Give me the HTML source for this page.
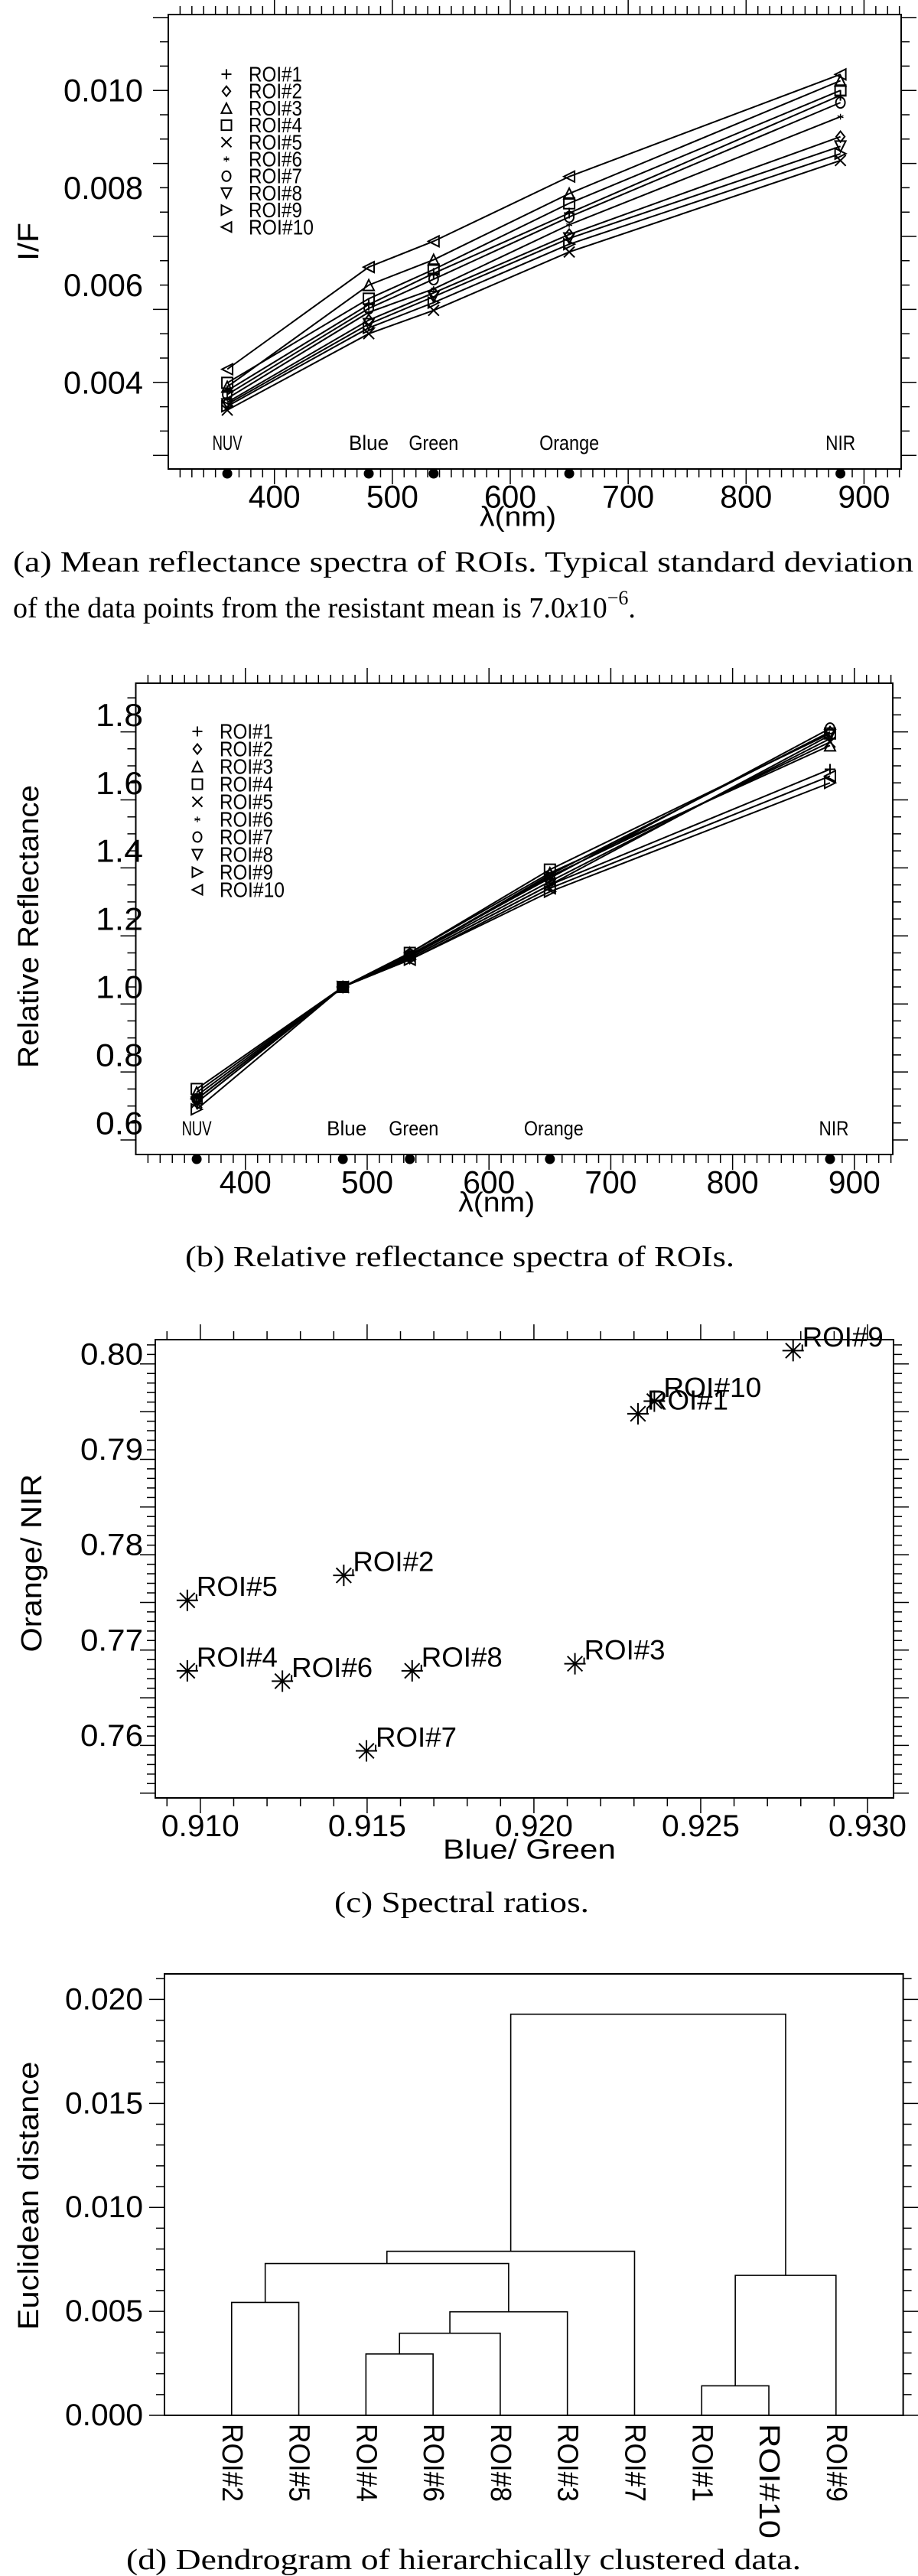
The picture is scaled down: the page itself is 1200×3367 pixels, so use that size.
<!DOCTYPE html>
<html><head><meta charset="utf-8"><title>ROI spectra figure</title>
<style>html,body{margin:0;padding:0;background:#fff}svg{display:block}</style></head>
<body>
<svg id="fig" xmlns="http://www.w3.org/2000/svg" width="1200" height="3367" viewBox="0 0 1200 3367" font-family="Liberation Sans, sans-serif"></svg>
<script>
// ---------- DATA ----------
const bandWl = [360, 480, 535, 650, 880];
const bandNames = ["NUV", "Blue", "Green", "Orange", "NIR"];
const roiNames = ["ROI#1","ROI#2","ROI#3","ROI#4","ROI#5","ROI#6","ROI#7","ROI#8","ROI#9","ROI#10"];
const xTicksNm = [400, 500, 600, 700, 800, 900];
// (a) mean I/F per ROI at NUV, Blue, Green, Orange, NIR
const ifRoi1  = [0.00383, 0.00560, 0.00624, 0.00748, 0.00990];
const ifRoi2  = [0.00359, 0.00528, 0.00584, 0.00704, 0.00905];
const ifRoi3  = [0.00391, 0.00600, 0.00652, 0.00788, 0.01020];
const ifRoi4  = [0.00399, 0.00572, 0.00632, 0.00768, 0.01000];
const ifRoi5  = [0.00343, 0.00500, 0.00548, 0.00668, 0.00856];
const ifRoi6  = [0.00367, 0.00544, 0.00592, 0.00724, 0.00946];
const ifRoi7  = [0.00375, 0.00552, 0.00612, 0.00740, 0.00975];
const ifRoi8  = [0.00355, 0.00520, 0.00576, 0.00696, 0.00885];
const ifRoi9  = [0.00351, 0.00512, 0.00564, 0.00684, 0.00870];
const ifRoi10 = [0.00427, 0.00637, 0.00690, 0.00823, 0.01033];
const yTicksA = [0.004, 0.006, 0.008, 0.010];
const yTickLabelsA = ["0.004", "0.006", "0.008", "0.010"];
// (b) relative reflectance per ROI
const rrRoi1  = [0.67, 1.0, 1.085, 1.300, 1.64];
const rrRoi2  = [0.67, 1.0, 1.090, 1.330, 1.75];
const rrRoi3  = [0.69, 1.0, 1.100, 1.335, 1.71];
const rrRoi4  = [0.70, 1.0, 1.100, 1.345, 1.745];
const rrRoi5  = [0.66, 1.0, 1.090, 1.325, 1.72];
const rrRoi6  = [0.68, 1.0, 1.090, 1.310, 1.73];
const rrRoi7  = [0.67, 1.0, 1.095, 1.320, 1.76];
const rrRoi8  = [0.66, 1.0, 1.085, 1.300, 1.74];
const rrRoi9  = [0.64, 1.0, 1.080, 1.280, 1.60];
const rrRoi10 = [0.67, 1.0, 1.080, 1.290, 1.62];
const yTicksB = [0.6, 0.8, 1.0, 1.2, 1.4, 1.6, 1.8];
const yTickLabelsB = ["0.6", "0.8", "1.0", "1.2", "1.4", "1.6", "1.8"];
// (c) spectral ratios
const blueGreen = [0.92312, 0.91430, 0.92123, 0.90961, 0.90961, 0.91246, 0.91498, 0.91635, 0.92777, 0.92361];
const orangeNir = [0.79378, 0.77683, 0.76757, 0.76683, 0.77422, 0.76574, 0.75843, 0.76683, 0.80040, 0.79510];
const xTicksC = [0.910, 0.915, 0.920, 0.925, 0.930];
const xTickLabelsC = ["0.910", "0.915", "0.920", "0.925", "0.930"];
const yTicksC = [0.76, 0.77, 0.78, 0.79, 0.80];
const yTickLabelsC = ["0.76", "0.77", "0.78", "0.79", "0.80"];
// (d) dendrogram
const leafOrder = ["ROI#2","ROI#5","ROI#4","ROI#6","ROI#8","ROI#3","ROI#7","ROI#1","ROI#10","ROI#9"];
const mergeLeft   = ["ROI#2", "ROI#4", "m1", "m2", "m0", "m4", "ROI#1", "m6", "m5"];
const mergeRight  = ["ROI#5", "ROI#6", "ROI#8", "ROI#3", "m3", "ROI#7", "ROI#10", "ROI#9", "m7"];
const mergeHeight = [0.00543, 0.00295, 0.00395, 0.00498, 0.00730, 0.00789, 0.00142, 0.00673, 0.01929];
const yTicksD = [0.000, 0.005, 0.010, 0.015, 0.020];
const yTickLabelsD = ["0.000", "0.005", "0.010", "0.015", "0.020"];

// ---------- helpers ----------
const NS = "http://www.w3.org/2000/svg";
const svg = document.getElementById("fig");
function mk(tag, attrs, parent) {
  const e = document.createElementNS(NS, tag);
  for (const k in attrs) e.setAttribute(k, attrs[k]);
  (parent || svg).appendChild(e);
  return e;
}
function lin(d0, d1, r0, r1) { return v => r0 + (v - d0) / (d1 - d0) * (r1 - r0); }
function txt(g, x, y, s, size, anchor, len, extra) {
  const t = mk("text", Object.assign({x: x, y: y, "font-size": size, "text-anchor": anchor || "start", "dominant-baseline": "central", fill: "#000"}, extra || {}), g);
  if (len) { t.setAttribute("textLength", len); t.setAttribute("lengthAdjust", "spacingAndGlyphs"); }
  t.textContent = s;
  return t;
}
function marker(g, k, x, y, s) {
  const a = {fill: "none", stroke: "#000", "stroke-width": 2};
  let p;
  switch (k) {
    case 0: p = `M${x-s},${y}H${x+s}M${x},${y-s}V${y+s}`; break;
    case 1: p = `M${x},${y-s}L${x+s*0.8},${y}L${x},${y+s}L${x-s*0.8},${y}Z`; break;
    case 2: p = `M${x},${y-s}L${x+s},${y+s}L${x-s},${y+s}Z`; break;
    case 3: p = `M${x-s},${y-s}H${x+s}V${y+s}H${x-s}Z`; break;
    case 4: p = `M${x-s},${y-s}L${x+s},${y+s}M${x+s},${y-s}L${x-s},${y+s}`; break;
    case 5: { const r = s*0.55; p = `M${x},${y-r}V${y+r}M${x-r},${y-r*0.3}L${x+r},${y+r*0.3}M${x+r},${y-r*0.3}L${x-r},${y+r*0.3}`; a["stroke-width"] = 1.3; break; }
    case 6: { const c = mk("ellipse", Object.assign({cx: x, cy: y, rx: s*0.85, ry: s}, a), g); return c; }
    case 7: p = `M${x-s},${y-s}H${x+s}L${x},${y+s}Z`; break;
    case 8: p = `M${x-s},${y-s}L${x+s},${y}L${x-s},${y+s}Z`; break;
    default: p = `M${x+s},${y-s}L${x-s},${y}L${x+s},${y+s}Z`;
  }
  return mk("path", Object.assign({d: p}, a), g);
}
function box(g, L, T, R, B) {
  mk("rect", {x: L, y: T, width: R - L, height: B - T, fill: "none", stroke: "#000", "stroke-width": 2}, g);
}
function yTicks(g, L, R, sy, lo, hi, step, majorEvery) {
  let d = "";
  const n = Math.round((hi - lo) / step);
  for (let i = 0; i <= n; i++) {
    const v = lo + i * step, y = sy(v);
    const len = (i % majorEvery === 0) ? 20 : 11;
    d += `M${L-len},${y}H${L}M${R},${y}H${R+len}`;
  }
  mk("path", {d: d, stroke: "#000", "stroke-width": 1.5, fill: "none"}, g);
}
function xTicks(g, T, B, sx, lo, hi, step, majorEvery, offset) {
  let d = "";
  const n = Math.round((hi - lo) / step);
  for (let i = 0; i <= n; i++) {
    const v = lo + i * step, x = sx(v);
    const len = ((i + offset) % majorEvery === 0) ? 20 : 11;
    d += `M${x},${T-len}V${T}M${x},${B}V${B+len}`;
  }
  mk("path", {d: d, stroke: "#000", "stroke-width": 1.5, fill: "none"}, g);
}

// ---------- spectra panels ----------
function spectrum(cfg, series, yT, yTL) {
  const g = mk("g", {});
  
  
  const sx = lin(310, 931.5, cfg.L, cfg.R);
  const sy = lin(cfg.y0, cfg.y1, cfg.B, cfg.T);
  box(g, cfg.L, cfg.T, cfg.R, cfg.B);
  xTicks(g, cfg.T, cfg.B, sx, 320, 930, 10, 10, 2);
  yTicks(g, cfg.L, cfg.R, sy, cfg.tickLo, cfg.tickHi, cfg.minor, cfg.majorEvery);
  yT.forEach((v, i) => {
    const t = txt(g, 187, sy(v), yTL[i], 42, "end", cfg.ylw);
    
    
  });
  xTicksNm.forEach(v => {
    const t = txt(g, sx(v), cfg.B + 36, String(v), 42, "middle", 68);
    
    
  });
  const xl = txt(g, sx(600) + 10, cfg.B + 62, "λ(nm)", 36, "middle", 100);
  
  
  const yl = txt(g, 0, 0, cfg.ylabel, 38, "middle", cfg.ylabelLen, {transform: `translate(38,${(cfg.T + cfg.B) / 2 + cfg.ylOff}) rotate(-90)`});
  
  
  bandWl.forEach((w, i) => {
    const bl = txt(g, sx(w) + cfg.bandOff[i], cfg.B - 34, bandNames[i], 27, "middle", bandNames[i].length * 13);
    
    
    const dot = mk("circle", {cx: sx(w), cy: cfg.B + 6, r: 6.5, fill: "#000"}, g);
    
    
  });
  series.forEach((vals, k) => {
    const sg = mk("g", {}, g);
    
    
    const pts = vals.map((v, i) => `${sx(bandWl[i])},${sy(v)}`).join(" ");
    mk("polyline", {points: pts, fill: "none", stroke: "#000", "stroke-width": 2}, sg);
    vals.forEach((v, i) => marker(sg, k, sx(bandWl[i]), sy(v), 7));
    const ly = cfg.legY + k * cfg.legStep;
    const lg = mk("g", {}, g);
    
    
    marker(lg, k, cfg.legX, ly, 6.5);
    txt(lg, cfg.legX + 29, ly, roiNames[k], 28, "start", k === 9 ? 85 : 70);
  });
}

spectrum({name: "panel-a-mean-reflectance", L: 220, R: 1178, T: 19, B: 613, y0: 0.00222, y1: 0.01156,
  tickLo: 0.0025, tickHi: 0.0115, minor: 0.0005, majorEvery: 3, ylw: 104,
  ylabel: "I/F", ylabelLen: 50, ylOff: 0, legX: 296, legY: 97, legStep: 22.2,
  bandOff: [0, 0, 0, 0, 0]},
  [ifRoi1, ifRoi2, ifRoi3, ifRoi4, ifRoi5, ifRoi6, ifRoi7, ifRoi8, ifRoi9, ifRoi10], yTicksA, yTickLabelsA);

spectrum({name: "panel-b-relative-reflectance", L: 177.5, R: 1167, T: 893, B: 1509, y0: 0.5073, y1: 1.893,
  tickLo: 0.55, tickHi: 1.85, minor: 0.05, majorEvery: 4, ylw: 62,
  ylabel: "Relative  Reflectance", ylabelLen: 370, ylOff: 10, legX: 258, legY: 956, legStep: 23,
  bandOff: [0, 5, 5, 5, 5]},
  [rrRoi1, rrRoi2, rrRoi3, rrRoi4, rrRoi5, rrRoi6, rrRoi7, rrRoi8, rrRoi9, rrRoi10], yTicksB, yTickLabelsB);

// ---------- panel c ----------
(function () {
  const g = mk("g", {});
  
  
  const L = 203, R = 1168, T = 1751, B = 2350;
  const sx = lin(0.90865, 0.93078, L, R), sy = lin(0.7535, 0.80155, B, T);
  box(g, L, T, R, B);
  xTicks(g, T, B, sx, 0.909, 0.930, 0.001, 5, 4);
  yTicks(g, L, R, sy, 0.754, 0.801, 0.001, 5);
  xTicksC.forEach((v, i) => {
    const t = txt(g, sx(v), 2387, xTickLabelsC[i], 40, "middle", 102);
    
    
  });
  yTicksC.forEach((v, i) => {
    const t = txt(g, 187, sy(v), yTickLabelsC[i], 40, "end", 82);
    
    
  });
  const xl = txt(g, 692, 2417, "Blue/ Green", 36, "middle", 226);
  
  
  const yl = txt(g, 0, 0, "Orange/  NIR", 38, "middle", 233, {transform: "translate(42,2043) rotate(-90)"});
  
  
  blueGreen.forEach((bg, i) => {
    const x = sx(bg), y = sy(orangeNir[i]), s = 14;
    const pg = mk("g", {}, g);
    
    
    const c = s * 0.7;
    mk("path", {d: `M${x-s},${y}H${x+s}M${x},${y-s}V${y+s}M${x-c},${y-c}L${x+c},${y+c}M${x+c},${y-c}L${x-c},${y+c}M${x},${y}H${x+12}V${y-8}`, stroke: "#000", "stroke-width": 2, fill: "none"}, pg);
    txt(pg, x + 12, y - 18, roiNames[i], 36, "start", roiNames[i].length === 6 ? 128 : 106);
  });
})();

// ---------- panel d ----------
(function () {
  const g = mk("g", {});
  
  
  const L = 215, R = 1180.6, T = 2580, B = 3157;
  const sx = lin(0, 11, L, R), sy = lin(0, 0.02123, B, T);
  box(g, L, T, R, B);
  yTicks(g, L, R, sy, 0, 0.021, 0.001, 5);
  yTicksD.forEach((v, i) => {
    const t = txt(g, 187, sy(v), yTickLabelsD[i], 40, "end", 102);
    
    
  });
  const yl = txt(g, 0, 0, "Euclidean  distance", 38, "middle", 351, {transform: "translate(38,2870) rotate(-90)"});
  
  
  const pos = {}, hgt = {};
  leafOrder.forEach((n, i) => {
    pos[n] = i + 1; hgt[n] = 0;
    const t = txt(g, 0, 0, n, 38, "start", n.length === 6 ? 150 : 102, {transform: `translate(${sx(i + 1)},3168) rotate(90)`});
    
    
  });
  mergeHeight.forEach((h, i) => {
    const a = mergeLeft[i], b = mergeRight[i];
    const xa = sx(pos[a]), xb = sx(pos[b]), y = sy(h);
    const p = mk("path", {d: `M${xa},${sy(hgt[a])}V${y}H${xb}V${sy(hgt[b])}`, stroke: "#000", "stroke-width": 1.6, fill: "none"}, g);
    
    
    pos["m" + i] = (pos[a] + pos[b]) / 2; hgt["m" + i] = h;
  });
})();

// ---------- captions ----------
const caps = [
  [735, "(a) Mean reflectance spectra of ROIs. Typical standard deviation", 17, 1177, "caption-a"],
  [1643, "(b) Relative reflectance spectra of ROIs.", 242, 718, "caption-b"],
  [2487, "(c) Spectral ratios.", 437, 333, "caption-c"],
  [3346, "(d) Dendrogram of hierarchically clustered data.", 165, 882, "caption-d"]
];
caps.forEach(c => {
  const t = txt(svg, c[2], c[0], c[1], 38, "start", c[3], {"font-family": "Liberation Serif, serif"});
  
  
});
const c2 = mk("text", {x: 17, y: 795, "font-size": 38, "font-family": "Liberation Serif, serif", "dominant-baseline": "central"});


c2.innerHTML = 'of the data points from the resistant mean is 7.0<tspan font-style="italic">x</tspan>10<tspan dy="-14" font-size="26">−6</tspan><tspan dy="14">.</tspan>';
</script>
</body></html>
